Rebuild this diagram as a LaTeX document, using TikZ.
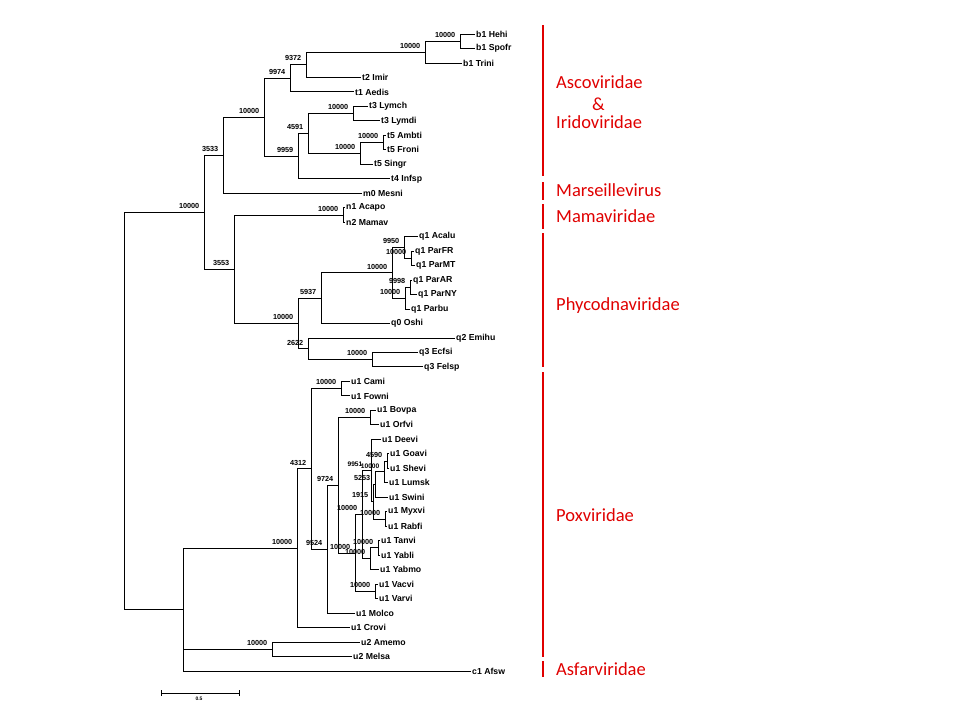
\documentclass[tikz,border=0pt]{standalone}
\usepackage{fontspec}
\setmainfont{Liberation Sans}
\newfontfamily\carl{Carlito}
\definecolor{famred}{RGB}{224,0,0}
\tikzset{
  leaf/.style={anchor=west, inner sep=1pt, font=\bfseries\fontsize{8.7}{9}\selectfont},
  boot/.style={anchor=south east, inner sep=0.5pt, xshift=-4pt, yshift=3pt, font=\bfseries\fontsize{7.3}{8}\selectfont},
  br/.style={draw=black, line width=0.85pt},
  fam/.style={text=famred, font=\carl\fontsize{18.5}{20}\selectfont, anchor=base west, inner sep=0pt},
  famline/.style={draw=famred, line width=2.6pt}
}
\begin{document}
\begin{tikzpicture}[x=1pt,y=-1pt]
\useasboundingbox (0,0) rectangle (960,720);
\fill[white] (0,0) rectangle (960,720);

% ---------------- leaves ----------------
\node[leaf] (hehi)  at (475,34.0)  {b1 Hehi};
\node[leaf] (spofr) at (475,48.5)  {b1 Spofr};
\node[leaf] (trini) at (462,63.0)  {b1 Trini};
\node[leaf] (imir)  at (361,77.4)  {t2 Imir};
\node[leaf] (aedis) at (354,91.9)  {t1 Aedis};
\node[leaf] (lymch) at (368,106.4) {t3 Lymch};
\node[leaf] (lymdi) at (380,120.9) {t3 Lymdi};
\node[leaf] (ambti) at (386,135.3) {t5 Ambti};
\node[leaf] (froni) at (386,149.8) {t5 Froni};
\node[leaf] (singr) at (373,164.3) {t5 Singr};
\node[leaf] (infsp) at (390,178.8) {t4 Infsp};
\node[leaf] (mesni) at (362,193.2) {m0 Mesni};
\node[leaf] (acapo) at (345,207.7) {n1 Acapo};
\node[leaf] (mamav) at (345,222.2) {n2 Mamav};
\node[leaf] (acalu) at (418,236.7) {q1 Acalu};
\node[leaf] (parfr) at (414,251.2) {q1 ParFR};
\node[leaf] (parmt) at (415,265.6) {q1 ParMT};
\node[leaf] (parar) at (412,280.1) {q1 ParAR};
\node[leaf] (parny) at (417,294.6) {q1 ParNY};
\node[leaf] (parbu) at (410,309.0) {q1 Parbu};
\node[leaf] (oshi)  at (390,323.5) {q0 Oshi};
\node[leaf] (emihu) at (455,338.0) {q2 Emihu};
\node[leaf] (ecfsi) at (418,352.5) {q3 Ecfsi};
\node[leaf] (felsp) at (423,366.9) {q3 Felsp};
\node[leaf] (cami)  at (350,381.4) {u1 Cami};
\node[leaf] (fowni) at (350,395.9) {u1 Fowni};
\node[leaf] (bovpa) at (376,410.4) {u1 Bovpa};
\node[leaf] (orfvi) at (379,424.8) {u1 Orfvi};
\node[leaf] (deevi) at (381,439.3) {u1 Deevi};
\node[leaf] (goavi) at (389,453.8) {u1 Goavi};
\node[leaf] (shevi) at (389,468.3) {u1 Shevi};
\node[leaf] (lumsk) at (388,482.8) {u1 Lumsk};
\node[leaf] (swini) at (388,497.2) {u1 Swini};
\node[leaf] (myxvi) at (387,511.7) {u1 Myxvi};
\node[leaf] (rabfi) at (387,526.2) {u1 Rabfi};
\node[leaf] (tanvi) at (380,540.7) {u1 Tanvi};
\node[leaf] (yabli) at (380,555.1) {u1 Yabli};
\node[leaf] (yabmo) at (379,569.6) {u1 Yabmo};
\node[leaf] (vacvi) at (378,584.1) {u1 Vacvi};
\node[leaf] (varvi) at (378,598.6) {u1 Varvi};
\node[leaf] (molco) at (355,613.0) {u1 Molco};
\node[leaf] (crovi) at (350,627.5) {u1 Crovi};
\node[leaf] (amemo) at (360,642.0) {u2 Amemo};
\node[leaf] (melsa) at (352,656.5) {u2 Melsa};
\node[leaf] (afsw)  at (471,671.0) {c1 Afsw};

% ---------------- internal nodes ----------------
\coordinate (J)   at (460,41.25);
\coordinate (I)   at (425,52.1);
\coordinate (H)   at (306,64.75);
\coordinate (F)   at (290,78.3);
\coordinate (L)   at (353,113.65);
\coordinate (N)   at (383,142.55);
\coordinate (M)   at (360,153.4);
\coordinate (K)   at (308,133.5);
\coordinate (G)   at (298,156.15);
\coordinate (E)   at (264,117.2);
\coordinate (C)   at (223,155.2);
\coordinate (O)   at (343,214.95);
\coordinate (V)   at (411,258.4);
\coordinate (T)   at (404,247.55);
\coordinate (W)   at (410,287.35);
\coordinate (U)   at (405,298.2);
\coordinate (S)   at (392,272.9);
\coordinate (Q)   at (321,298.2);
\coordinate (X2)  at (372,359.7);
\coordinate (R)   at (308,348.85);
\coordinate (P)   at (298,323.5);
\coordinate (D)   at (234,269.2);
\coordinate (B)   at (204,212.2);
\coordinate (Z1)  at (341,388.65);
\coordinate (Z4)  at (370,417.6);
\coordinate (Na)  at (387,461.05);
\coordinate (Nb)  at (384,471.9);
\coordinate (Nc)  at (375,484.55);
\coordinate (Nf)  at (385,518.95);
\coordinate (Ng)  at (373,501.75);
\coordinate (Nh)  at (371,470.5);
\coordinate (Nty) at (378,547.9);
\coordinate (Ny)  at (370,558.75);
\coordinate (Z6)  at (362,514.6);
\coordinate (Z7)  at (375,591.35);
\coordinate (Z5)  at (355,553.0);
\coordinate (Z3)  at (338,485.3);
\coordinate (Z2)  at (327,549.15);
\coordinate (Y)   at (311,468.9);
\coordinate (Pox) at (297,548.2);
\coordinate (Ent) at (272,649.25);
\coordinate (X)   at (183,609.6);
\coordinate (Root) at (124,410.9);

% ---------------- branches ----------------
\draw[br] (J) |- (hehi.west)  (J) |- (spofr.west);
\draw[br] (I) |- (J)          (I) |- (trini.west);
\draw[br] (H) |- (I)          (H) |- (imir.west);
\draw[br] (F) |- (H)          (F) |- (aedis.west);
\draw[br] (L) |- (lymch.west) (L) |- (lymdi.west);
\draw[br] (N) |- (ambti.west) (N) |- (froni.west);
\draw[br] (M) |- (N)          (M) |- (singr.west);
\draw[br] (K) |- (L)          (K) |- (M);
\draw[br] (G) |- (K)          (G) |- (infsp.west);
\draw[br] (E) |- (F)          (E) |- (G);
\draw[br] (C) |- (E)          (C) |- (mesni.west);
\draw[br] (O) |- (acapo.west) (O) |- (mamav.west);
\draw[br] (V) |- (parfr.west) (V) |- (parmt.west);
\draw[br] (T) |- (acalu.west) (T) |- (V);
\draw[br] (W) |- (parar.west) (W) |- (parny.west);
\draw[br] (U) |- (W)          (U) |- (parbu.west);
\draw[br] (S) |- (T)          (S) |- (U);
\draw[br] (Q) |- (S)          (Q) |- (oshi.west);
\draw[br] (X2) |- (ecfsi.west) (X2) |- (felsp.west);
\draw[br] (R) |- (emihu.west) (R) |- (X2);
\draw[br] (P) |- (Q)          (P) |- (R);
\draw[br] (D) |- (O)          (D) |- (P);
\draw[br] (B) |- (C)          (B) |- (D);
\draw[br] (Z1) |- (cami.west) (Z1) |- (fowni.west);
\draw[br] (Z4) |- (bovpa.west) (Z4) |- (orfvi.west);
\draw[br] (Na) |- (goavi.west) (Na) |- (shevi.west);
\draw[br] (Nb) |- (Na)        (Nb) |- (lumsk.west);
\draw[br] (Nc) |- (Nb)        (Nc) |- (swini.west);
\draw[br] (Nf) |- (myxvi.west) (Nf) |- (rabfi.west);
\draw[br] (Ng) |- (Nc)        (Ng) |- (Nf);
\draw[br] (Nh) |- (deevi.west) (Nh) |- (Ng);
\draw[br] (Nty) |- (tanvi.west) (Nty) |- (yabli.west);
\draw[br] (Ny) |- (Nty)       (Ny) |- (yabmo.west);
\draw[br] (Z6) |- (Nh)        (Z6) |- (Ny);
\draw[br] (Z7) |- (vacvi.west) (Z7) |- (varvi.west);
\draw[br] (Z5) |- (Z6)        (Z5) |- (Z7);
\draw[br] (Z3) |- (Z4)        (Z3) |- (Z5);
\draw[br] (Z2) |- (Z3)        (Z2) |- (molco.west);
\draw[br] (Y) |- (Z1)         (Y) |- (Z2);
\draw[br] (Pox) |- (Y)        (Pox) |- (crovi.west);
\draw[br] (Ent) |- (amemo.west) (Ent) |- (melsa.west);
\draw[br] (X) |- (Pox)        (X) |- (Ent)  (X) |- (afsw.west);
\draw[br] (Root) |- (B)       (Root) |- (X);

% ---------------- bootstrap values ----------------
\node[boot] (bJ)  at (J)  {10000};
\node[boot] (bI)  at (I)  {10000};
\node[boot] (bH)  at (H)  {9372};
\node[boot] (bF)  at (F)  {9974};
\node[boot] (bE)  at (E)  {10000};
\node[boot] (bL)  at (L)  {10000};
\node[boot] (bK)  at (K)  {4591};
\node[boot] (bN)  at (N)  {10000};
\node[boot] (bM)  at (M)  {10000};
\node[boot] (bG)  at (G)  {9959};
\node[boot] (bC)  at (C)  {3533};
\node[boot] (bB)  at (B)  {10000};
\node[boot] (bO)  at (O)  {10000};
\node[boot] (bT)  at (T)  {9950};
\node[boot] (bV)  at (V)  {10000};
\node[boot] (bS)  at (S)  {10000};
\node[boot] (bW)  at (W)  {9998};
\node[boot] (bU)  at (U)  {10000};
\node[boot] (bQ)  at (Q)  {5937};
\node[boot] (bD)  at (D)  {3553};
\node[boot] (bP)  at (P)  {10000};
\node[boot] (bR)  at (R)  {2622};
\node[boot] (bX2) at (X2) {10000};
\node[boot] (bZ1) at (Z1) {10000};
\node[boot] (bZ4) at (Z4) {10000};
\node[boot] (bNa) at (Na) {4590};
\node[boot, xshift=-4pt, font=\bfseries\fontsize{6.6}{7}\selectfont] (bNh) at (Nh) {9951};
\node[boot, font=\bfseries\fontsize{6.6}{7}\selectfont] (bNb) at (Nb) {10000};
\node[boot] (bNc) at (Nc) {5253};
\node[boot] (bNg) at (Ng) {1915};
\node[boot] (bZ6) at (Z6) {10000};
\node[boot] (bNf) at (Nf) {10000};
\node[boot] (bNty) at (Nty) {10000};
\node[boot] (bNy) at (Ny) {10000};
\node[boot] (bZ7) at (Z7) {10000};
\node[boot] (bZ5) at (Z5) {10000};
\node[boot] (bZ3) at (Z3) {9724};
\node[boot] (bZ2) at (Z2) {9524};
\node[boot] (bY)  at (Y)  {4312};
\node[boot] (bPox) at (Pox) {10000};
\node[boot] (bEnt) at (Ent) {10000};

% ---------------- scale bar ----------------
\coordinate (sb1) at (161,693);
\coordinate (sb2) at (239,693);
\draw[br, line width=0.7pt] (sb1) -- (sb2);
\draw[br, line width=0.7pt] ([yshift=3pt]sb1) -- ([yshift=-3pt]sb1);
\draw[br, line width=0.7pt] ([yshift=3pt]sb2) -- ([yshift=-3pt]sb2);
\node[anchor=north, inner sep=0.5pt, font=\bfseries\fontsize{5}{5}\selectfont] (sblab) at (199,696) {0.5};

% ---------------- family bars ----------------
\coordinate (fa1) at (543,25);  \coordinate (fa2) at (543,176);
\coordinate (fb1) at (543,182); \coordinate (fb2) at (543,200);
\coordinate (fc1) at (543,204); \coordinate (fc2) at (543,229);
\coordinate (fd1) at (543,233); \coordinate (fd2) at (543,367);
\coordinate (fe1) at (543,372); \coordinate (fe2) at (543,657);
\coordinate (ff1) at (543,661); \coordinate (ff2) at (543,677);
\draw[famline] (fa1) -- (fa2);
\draw[famline] (fb1) -- (fb2);
\draw[famline] (fc1) -- (fc2);
\draw[famline] (fd1) -- (fd2);
\draw[famline] (fe1) -- (fe2);
\draw[famline] (ff1) -- (ff2);

\node[fam] (tAsco) at (556,88)  {Ascoviridae};
\node[fam] (tAmp)  at (592,110) {\&};
\node[fam] (tIrid) at (556,128) {Iridoviridae};
\node[fam] (tMars) at (556,196) {Marseillevirus};
\node[fam] (tMama) at (556,222) {Mamaviridae};
\node[fam] (tPhyc) at (556,310) {Phycodnaviridae};
\node[fam] (tPox)  at (556,521) {Poxviridae};
\node[fam] (tAsfa) at (556,675) {Asfarviridae};
\end{tikzpicture}
\end{document}
